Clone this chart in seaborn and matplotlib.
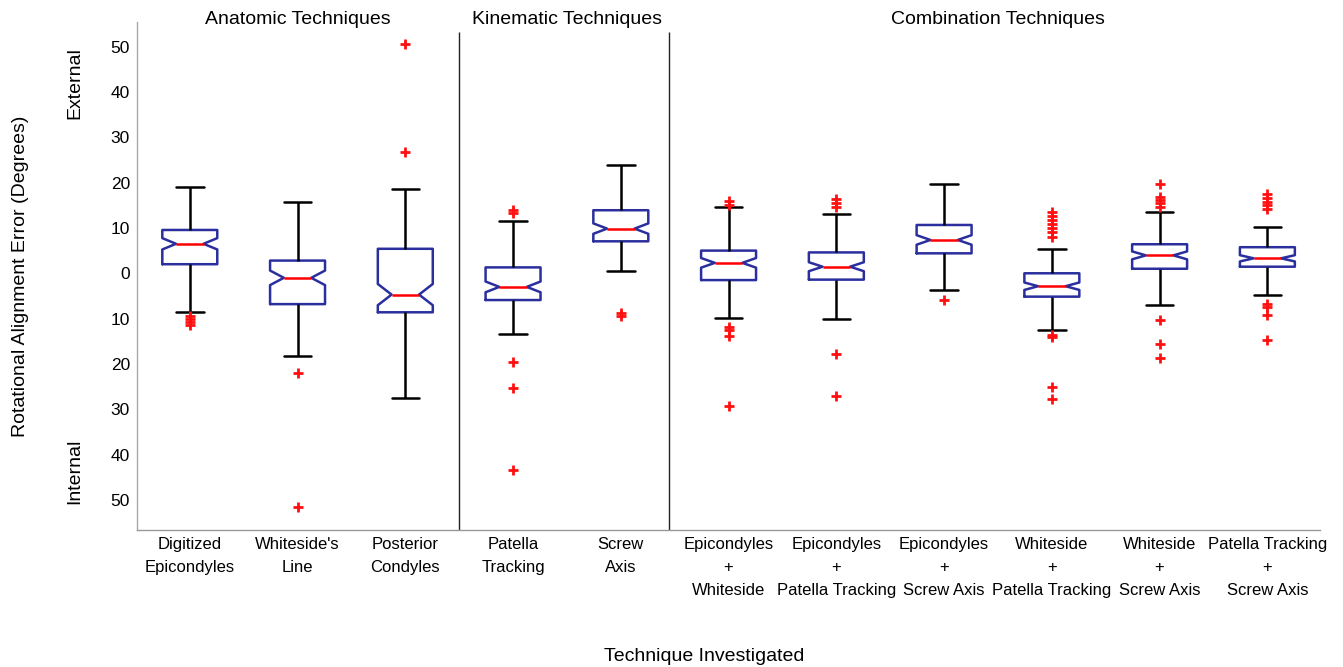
import numpy as np
import pandas as pd
import matplotlib
matplotlib.use("Agg")
import matplotlib.pyplot as plt
import seaborn as sns

# box summaries (degrees, + = external, - = internal)
techniques = [
    "Digitized\nEpicondyles", "Whiteside's\nLine", "Posterior\nCondyles",
    "Patella\nTracking", "Screw\nAxis",
    "Epicondyles\n+\nWhiteside", "Epicondyles\n+\nPatella Tracking",
    "Epicondyles\n+\nScrew Axis", "Whiteside\n+\nPatella Tracking",
    "Whiteside\n+\nScrew Axis", "Patella Tracking\n+\nScrew Axis",
]
whisker_low = [-8.5, -18.2, -27.6, -13.3, 0.5, -9.9, -10.1, -3.7, -12.5, -6.9, -4.8]
q1 = [2.0, -6.8, -8.6, -5.9, 7.05, -1.5, -1.4, 4.4, -5.15, 1.0, 1.45]
median = [6.5, -1.0, -4.7, -3.0, 9.85, 2.3, 1.45, 7.35, -2.85, 3.95, 3.3]
q3 = [9.55, 2.8, 5.4, 1.3, 13.9, 5.0, 4.6, 10.65, 0.0, 6.4, 5.75]
whisker_high = [19.0, 15.8, 18.5, 11.6, 23.8, 14.6, 13.15, 19.6, 5.4, 13.6, 10.1]
fliers_low = [
    [-9.5, -10.1, -10.7, -11.3],
    [-21.9, -51.6],
    [],
    [-19.6, -25.4, -43.3],
    [-8.7, -9.5],
    [-11.9, -12.4, -13.8, -29.3],
    [-17.7, -27.0],
    [-6.0],
    [-13.6, -14.1, -25.0, -27.7],
    [-10.4, -15.7, -18.6],
    [-6.8, -7.5, -9.2, -14.7],
]
fliers_high = [
    [],
    [],
    [26.7, 50.6],
    [13.4, 14.0],
    [],
    [15.1, 15.9],
    [14.6, 15.5, 16.3],
    [],
    [8.1, 9.0, 9.9, 10.8, 11.8, 12.7, 13.6],
    [14.7, 15.4, 16.2, 16.9, 19.7],
    [14.2, 15.0, 15.8, 16.6, 17.4],
]
block = 28  # repeats of each quartile value, sets the sample size (notch width)

rows = []
for i, t in enumerate(techniques):
    vals = (fliers_low[i] + [whisker_low[i]] + [q1[i]] * block + [median[i]] * block
            + [q3[i]] * block + [whisker_high[i]] + fliers_high[i])
    rows += [(t, v) for v in vals]
df = pd.DataFrame(rows, columns=["technique", "error"])

sns.set_theme(style="white")
plt.rcParams["font.family"] = ["Liberation Sans", "DejaVu Sans"]
plt.rcParams["text.color"] = "black"

fig = plt.figure(figsize=(13.43, 6.67), dpi=100)
ax = fig.add_axes([0.102, 0.2054, 0.881, 0.7616])

blue = "#2b2f9e"
lw = 1.8
sns.boxplot(
    data=df, x="technique", y="error", order=techniques, ax=ax,
    width=0.51, fill=False, notch=True, whis=1.5, fliersize=7.5,
    boxprops={"color": blue, "linewidth": lw},
    medianprops={"color": "#ff0000", "linewidth": lw},
    whiskerprops={"color": "black", "linewidth": lw},
    capprops={"color": "black", "linewidth": lw},
    flierprops={"marker": "+", "markeredgecolor": "#ff1010",
                "markeredgewidth": 2.0},
)

ax.set_ylim(-56.6, 55.4)
ax.set_xlim(-0.49, 10.49)
yt = np.arange(-50, 51, 10)
ax.set_yticks(yt)
ax.set_yticklabels([str(abs(v)) for v in yt])
ax.set_xticks(range(len(techniques)))
ax.set_xticklabels(techniques, linespacing=1.65)
ax.set_xlabel("")
ax.set_ylabel("")

ax.tick_params(axis="y", direction="in", length=7, width=0.8, color="#aaaaaa",
               pad=5, labelsize=12.5, labelcolor="black")
ax.tick_params(axis="x", direction="in", length=9.5, width=0.8, color="#aaaaaa",
               pad=5, labelsize=12, labelcolor="black")
for s in ["top", "right"]:
    ax.spines[s].set_visible(False)
ax.spines["left"].set_color("#a8a8a8")
ax.spines["bottom"].set_color("#999999")
ax.spines["left"].set_linewidth(1.0)
ax.spines["bottom"].set_linewidth(1.0)

# group separators and headings
ax.vlines([2.5, 4.45], -56.6, 53.2, color="#222222", linewidth=1.0)
for xc, name in [(1, "Anatomic Techniques"), (3.5, "Kinematic Techniques"),
                 (7.5, "Combination Techniques")]:
    ax.text(xc, 56.0, name, ha="center", va="center", fontsize=14,
            color="black", clip_on=False)

fig.text(0.015, 0.586, "Rotational Alignment Error (Degrees)", rotation=90,
         ha="center", va="center", fontsize=14, color="black")
fig.text(0.056, 0.875, "External", rotation=90, ha="center", va="center",
         fontsize=14, color="black")
fig.text(0.056, 0.293, "Internal", rotation=90, ha="center", va="center",
         fontsize=14, color="black")
fig.text(0.524, 0.016, "Technique Investigated", ha="center", va="center",
         fontsize=14, color="black")

fig.savefig("out.png", dpi=100)
